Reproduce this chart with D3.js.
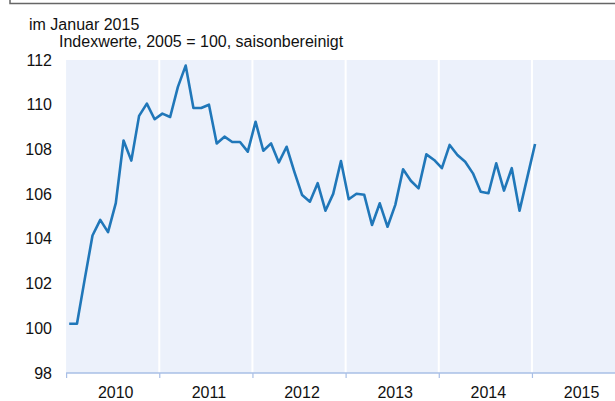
<!DOCTYPE html>
<html lang="de">

<head>
    <meta charset="UTF-8">
    <title>Index im Januar 2015</title>
    <style>
        body {
            margin: 0;
            background: #fff;
        }

        svg {
            display: block;
            font-family: "Liberation Sans", Arial, sans-serif;
        }
    </style>
</head>

<body>
    <div class="box"></div>
    <script src="https://d3js.org/d3.v7.min.js"></script>

    <script>
        const width = 615;
        const height = 401;

        // Daten: Monatswerte Januar 2010 bis Januar 2015
        const startYear = 2010;
        const years = [2010, 2011, 2012, 2013, 2014, 2015];
        const yTicks = [98, 100, 102, 104, 106, 108, 110, 112];
        const values = [
            100.2, 100.2, 102.2, 104.15, 104.85, 104.3, 105.6, 108.4, 107.5, 109.5, 110.05, 109.35,
            109.6, 109.45, 110.8, 111.75, 109.85, 109.85, 110.0, 108.27, 108.57, 108.33, 108.33, 107.9,
            109.24, 107.94, 108.27, 107.42, 108.12, 107.0, 105.96, 105.66, 106.49, 105.26, 106.01, 107.48,
            105.77, 106.02, 105.97, 104.62, 105.59, 104.54, 105.52, 107.11, 106.6, 106.26, 107.78, 107.53,
            107.16, 108.2, 107.75, 107.45, 106.93, 106.11, 106.04, 107.38, 106.16, 107.16, 105.26, 106.75,
            108.24
        ];

        const plot = { left: 66.1, top: 60, bottom: 373, right: 615 };

        const svg = d3.select('.box')
            .append('svg')
            .attr('width', width)
            .attr('height', height);

        // Rahmenrest oben
        svg.append('path')
            .attr('d', `M10,0 V3.5 H${width}`)
            .attr('fill', 'none')
            .attr('stroke', '#666')
            .attr('stroke-width', 1.5);

        // Titel
        svg.append('text')
            .attr('x', 29).attr('y', 30)
            .attr('font-size', 16)
            .attr('fill', '#111')
            .text('im Januar 2015');
        svg.append('text')
            .attr('x', 59).attr('y', 47)
            .attr('font-size', 16)
            .attr('fill', '#111')
            .text('Indexwerte, 2005 = 100, saisonbereinigt');

        // Skalen
        const x = d3.scaleLinear()
            .domain([2010, 2016])
            .range([plot.left, plot.left + 6 * 93.17]);
        const y = d3.scaleLinear()
            .domain([98, 112])
            .range([plot.bottom, plot.top]);

        // Hintergrund
        svg.append('rect')
            .attr('x', plot.left)
            .attr('y', plot.top)
            .attr('width', plot.right - plot.left)
            .attr('height', plot.bottom - plot.top)
            .attr('fill', '#ecf1fb');

        // Vertikale Gitterlinien an den Jahresgrenzen
        svg.append('g').selectAll('line')
            .data(years.slice(1))
            .enter().append('line')
            .attr('x1', d => x(d)).attr('x2', d => x(d))
            .attr('y1', plot.top).attr('y2', plot.bottom)
            .attr('stroke', '#fff')
            .attr('stroke-width', 2);

        // x-Achse
        const xAxis = d3.axisBottom(x)
            .tickValues(years)
            .tickSize(5)
            .tickFormat('');
        const gx = svg.append('g')
            .attr('transform', `translate(0, ${plot.bottom})`)
            .call(xAxis);
        gx.select('.domain').remove();
        gx.selectAll('.tick line').attr('stroke', '#a9bfe6').attr('stroke-width', 1.2);
        gx.append('line')
            .attr('x1', plot.left).attr('x2', plot.right)
            .attr('stroke', '#a9bfe6')
            .attr('stroke-width', 1.5);

        svg.append('g').selectAll('text')
            .data(years)
            .enter().append('text')
            .attr('x', d => x(d + 0.5) + 3)
            .attr('y', 398)
            .attr('text-anchor', 'middle')
            .attr('font-size', 16)
            .attr('fill', '#111')
            .text(d => d);

        // y-Achse (nur Beschriftung)
        const yAxis = d3.axisLeft(y)
            .tickValues(yTicks)
            .tickSize(0)
            .tickPadding(0);
        const gy = svg.append('g')
            .attr('transform', 'translate(52, 0)')
            .call(yAxis);
        gy.select('.domain').remove();
        gy.selectAll('text')
            .attr('font-size', 16)
            .attr('font-family', '"Liberation Sans", Arial, sans-serif')
            .attr('fill', '#111');

        // Linie
        const line = d3.line()
            .x((d, i) => x(startYear + (i + 0.4) / 12))
            .y(d => y(d));

        svg.append('path')
            .datum(values)
            .attr('d', line)
            .attr('fill', 'none')
            .attr('stroke', '#2077b9')
            .attr('stroke-width', 2.6)
            .attr('stroke-linejoin', 'round');
    </script>
</body>

</html>
